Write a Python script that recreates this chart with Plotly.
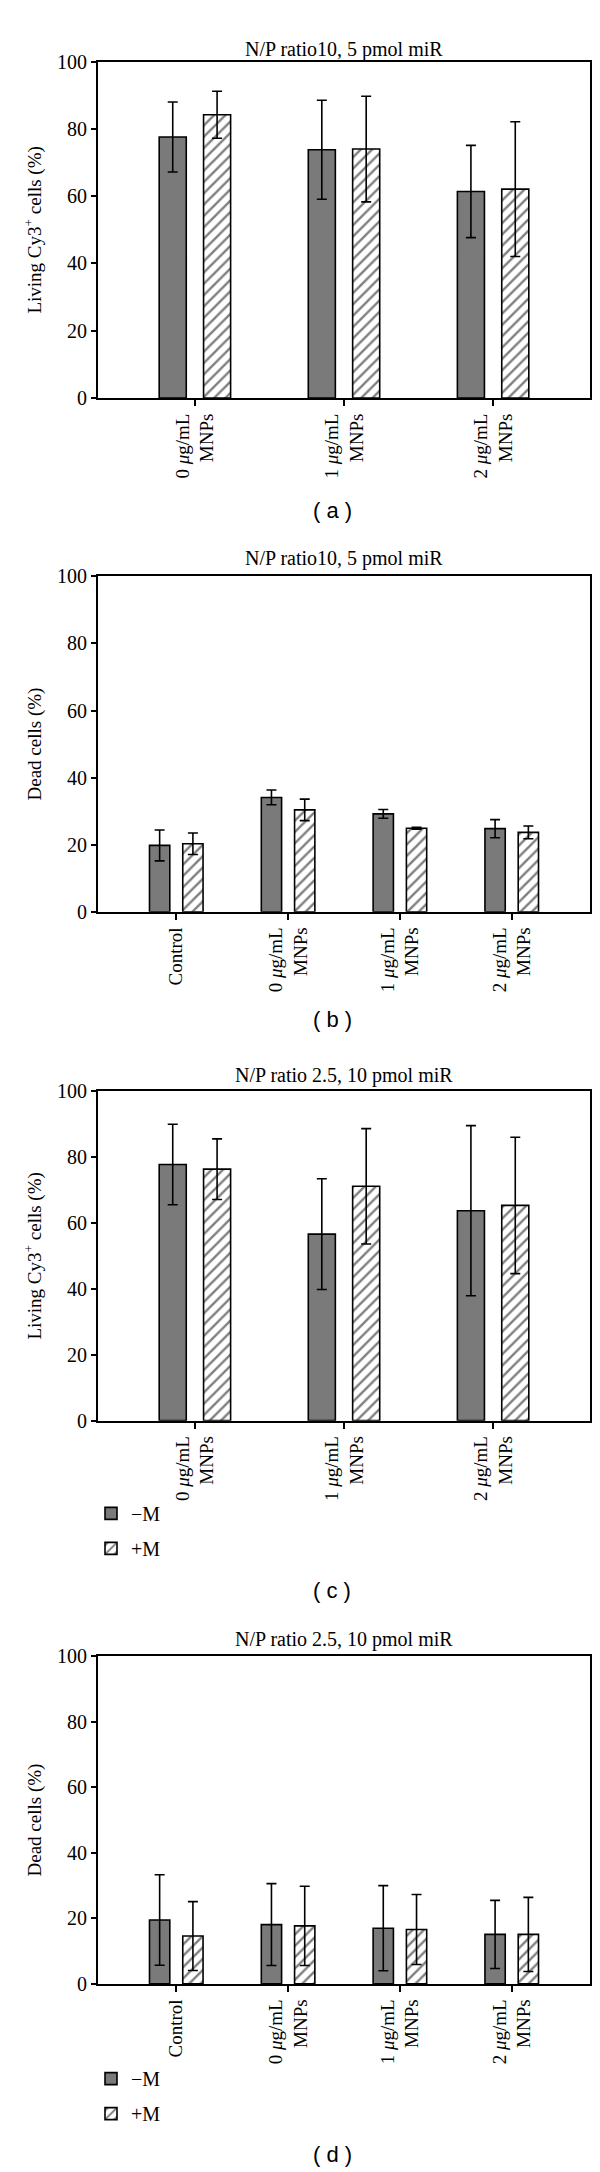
import plotly.graph_objects as go

# ---------------- data ----------------
groups_mnp = ["0 <i>μ</i>g/mL<br>MNPs", "1 <i>μ</i>g/mL<br>MNPs", "2 <i>μ</i>g/mL<br>MNPs"]
groups_ctrl = ["Control"] + groups_mnp
series_names = ["−M", "+M"]

panel_titles = ["N/P ratio10, 5 pmol miR", "N/P ratio10, 5 pmol miR",
                "N/P ratio 2.5, 10 pmol miR", "N/P ratio 2.5, 10 pmol miR"]
y_titles = ["Living Cy3<sup>+</sup> cells (%)", "Dead cells (%)",
            "Living Cy3<sup>+</sup> cells (%)", "Dead cells (%)"]
panel_labels = ["( a )", "( b )", "( c )", "( d )"]

a_minus = [77.6, 73.8, 61.4]
a_minus_err = [10.4, 14.7, 13.7]
a_plus = [84.2, 74.0, 62.1]
a_plus_err = [7.0, 15.7, 20.0]

b_minus = [19.8, 34.1, 29.2, 24.8]
b_minus_err = [4.6, 2.2, 1.3, 2.7]
b_plus = [20.3, 30.4, 24.9, 23.7]
b_plus_err = [3.2, 3.2, 0.3, 1.9]

c_minus = [77.7, 56.6, 63.7]
c_minus_err = [12.2, 16.8, 25.8]
c_plus = [76.3, 71.1, 65.3]
c_plus_err = [9.2, 17.5, 20.7]

d_minus = [19.5, 18.1, 17.0, 15.1]
d_minus_err = [13.8, 12.5, 13.0, 10.4]
d_plus = [14.6, 17.7, 16.6, 15.1]
d_plus_err = [10.5, 12.1, 10.7, 11.3]

y_ticks = [0, 20, 40, 60, 80, 100]

# ---------------- layout helpers ----------------
W, H = 600, 2172
SERIF = "Liberation Serif, Times New Roman, serif"
SANS = "Liberation Sans, Arial, sans-serif"


def py(v):
    return 1 - v / H


x_dom = [90 / W, 582 / W]
# (top px, zero px) for each panel
panel_px = [(43, 383), (563, 902), (1083, 1416), (1654, 1985)]
title_px = [31, 545, 1067, 1637]
label_px = [497, 1011, 1588, 2157]

panels = [
    (groups_mnp, a_minus, a_minus_err, a_plus, a_plus_err, False),
    (groups_ctrl, b_minus, b_minus_err, b_plus, b_plus_err, False),
    (groups_mnp, c_minus, c_minus_err, c_plus, c_plus_err, True),
    (groups_ctrl, d_minus, d_minus_err, d_plus, d_plus_err, True),
]

fig = go.Figure()
annotations = []
legend_names = {2: "legend", 3: "legend2"}

for i, (cats, mv, me, pv, pe, has_leg) in enumerate(panels):
    n = i + 1
    xa = "x" if n == 1 else f"x{n}"
    ya = "y" if n == 1 else f"y{n}"
    leg = legend_names.get(i, "legend")
    fig.add_trace(go.Bar(
        x=cats, y=mv, name=series_names[0], xaxis=xa, yaxis=ya,
        marker=dict(color="#7a7a7a", line=dict(color="black", width=1.6)),
        error_y=dict(type="data", array=me, visible=True, color="black",
                     thickness=1.6, width=5),
        showlegend=has_leg, legend=leg, legendgroup=f"m{n}",
    ))
    fig.add_trace(go.Bar(
        x=cats, y=pv, name=series_names[1], xaxis=xa, yaxis=ya,
        marker=dict(color="white", line=dict(color="black", width=1.6),
                    pattern=dict(shape="/", fgcolor="black", bgcolor="white",
                                 size=8, solidity=0.3)),
        error_y=dict(type="data", array=pe, visible=True, color="black",
                     thickness=1.6, width=5),
        showlegend=has_leg, legend=leg, legendgroup=f"p{n}",
    ))

    top, zero = panel_px[i]
    ncat = len(cats)
    pad = 0.65 if ncat == 3 else 0.7
    xkey = "xaxis" if n == 1 else f"xaxis{n}"
    ykey = "yaxis" if n == 1 else f"yaxis{n}"
    fig.update_layout({
        xkey: dict(domain=x_dom, anchor=ya, type="category",
                   range=[-pad, ncat - 1 + pad], tickangle=-90,
                   ticks="outside", ticklen=6, tickwidth=1.8, tickcolor="black",
                   showline=True, linecolor="black", linewidth=1.8, mirror=True,
                   showgrid=False, zeroline=False,
                   tickfont=dict(family=SERIF, size=19, color="black")),
        ykey: dict(domain=[py(zero), py(top)], anchor=xa, range=[0, 100],
                   tickvals=y_ticks, ticks="outside", ticklen=5, tickwidth=1.8,
                   tickcolor="black", showline=True, linecolor="black",
                   linewidth=1.8, mirror=True, showgrid=False, zeroline=False,
                   tickfont=dict(family=SERIF, size=20, color="black"),
                   title=dict(text=y_titles[i], standoff=10,
                              font=dict(family=SERIF, size=19, color="black"))),
    })
    annotations.append(dict(
        text=panel_titles[i], xref="paper", yref="paper",
        x=(x_dom[0] + x_dom[1]) / 2, y=py(title_px[i]),
        xanchor="center", yanchor="middle", showarrow=False,
        font=dict(family=SERIF, size=20, color="black")))
    annotations.append(dict(
        text=panel_labels[i], xref="paper", yref="paper",
        x=324 / W, y=py(label_px[i]), xanchor="center", yanchor="middle",
        showarrow=False, font=dict(family=SANS, size=22, color="black")))

legend_style = dict(
    x=83 / W, xanchor="left", yanchor="top", bgcolor="rgba(0,0,0,0)",
    traceorder="grouped", tracegroupgap=6,
    font=dict(family=SERIF, size=20, color="black"))

fig.update_layout(
    width=W, height=H, margin=dict(l=0, r=0, t=0, b=0),
    paper_bgcolor="white", plot_bgcolor="white",
    barmode="group", bargap=0.405, bargroupgap=0.39,
    annotations=annotations,
    legend=dict(legend_style, y=py(1490)),
    legend2=dict(legend_style, y=py(2061)),
)

fig.write_html("out.html")
